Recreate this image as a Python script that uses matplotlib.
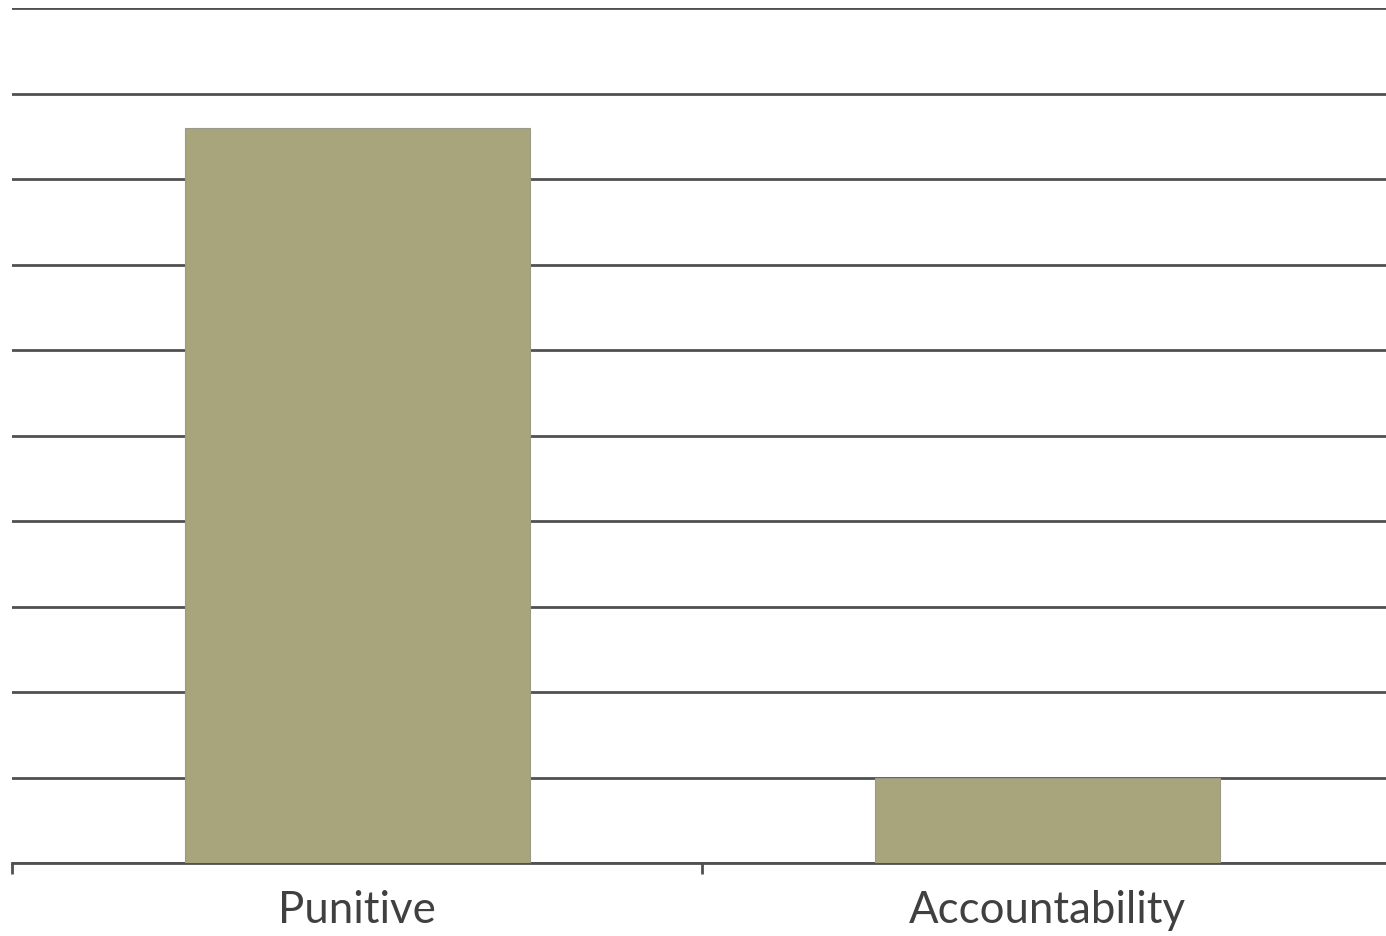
import matplotlib
matplotlib.use('Agg')
import matplotlib.pyplot as plt
import numpy as np

categories = ['Punitive', 'Accountability']
values = [8.6, 1.0]

fig = plt.figure(figsize=(13.86, 9.37), dpi=100)
ax = fig.add_axes([12 / 1386, 73 / 937, 1380 / 1386, 855 / 937])

x = np.arange(len(categories))
ax.bar(x, values, width=0.5, color='#a8a47c', edgecolor='#9a9a8a', linewidth=0.8, zorder=3)

ax.set_xlim(-0.5, 1.5)
ax.set_ylim(0, 10)
ax.set_yticks(np.arange(0, 11, 1))
ax.yaxis.grid(True, color='#505050', linewidth=2, zorder=0)
ax.tick_params(axis='y', length=0, labelleft=False)

# category boundaries get the tick marks, labels sit between them
ax.set_xticks([-0.5, 0.5, 1.5])
ax.set_xticklabels([])
ax.set_xticks(x, minor=True)
ax.set_xticklabels(categories, minor=True, fontsize=31.5, color='#404040', family='Lato')
ax.tick_params(axis='x', which='major', length=8, width=2, color='#505050')
ax.tick_params(axis='x', which='minor', length=0, pad=19)

for s in ['left', 'right', 'top']:
    ax.spines[s].set_visible(False)
ax.spines['bottom'].set_color('#505050')
ax.spines['bottom'].set_linewidth(2)

fig.savefig('out.png', dpi=100)
